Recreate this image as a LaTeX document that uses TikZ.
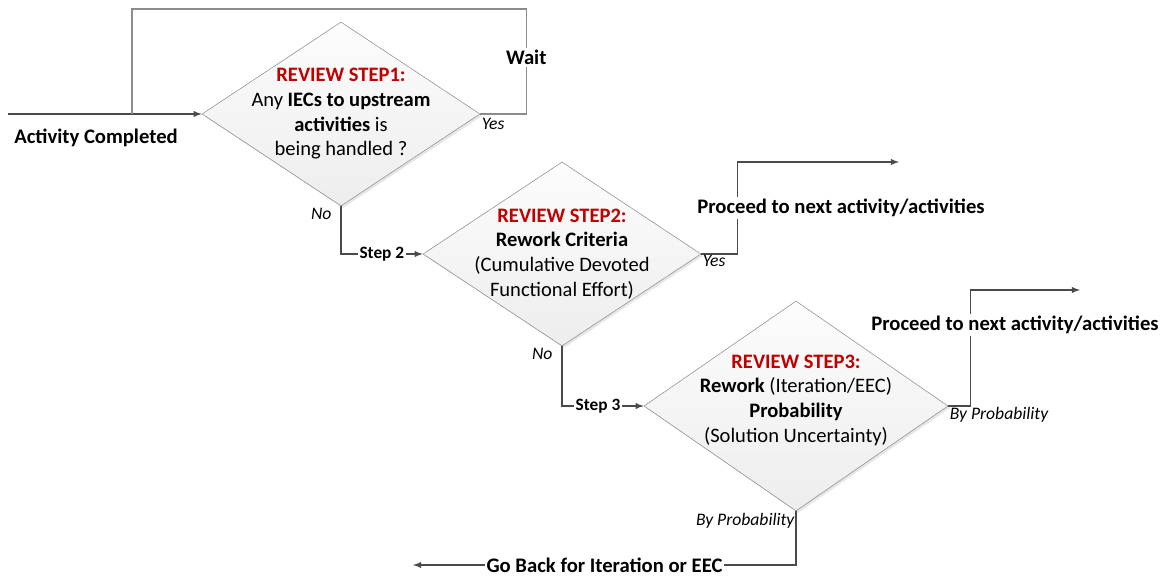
\documentclass[tikz,border=0pt]{standalone}
\usepackage{fontspec}
\setmainfont{Carlito}
\usetikzlibrary{shapes,arrows,positioning,calc,shadows}
\definecolor{reviewred}{HTML}{C00000}
\definecolor{flowline}{HTML}{4A4A4A}
\definecolor{edgegray}{HTML}{8C8C8C}

\begin{document}
\begin{tikzpicture}[x=0.75pt,y=-0.75pt,>=latex,
  decision/.style={diamond,draw=edgegray,inner sep=0pt,top color=gray!2,bottom color=gray!14,
    drop shadow={opacity=0.2,shadow xshift=1.5pt,shadow yshift=-1.5pt}},
  steptext/.style={align=center,font=\fontsize{15.4}{18.5}\selectfont},
  flow/.style={draw=flowline,line width=1.1pt},
  boldlabel/.style={font=\fontsize{15.5}{17}\selectfont\bfseries,text=black,fill=white,inner sep=1.5pt},
  smallbold/.style={font=\fontsize{13}{15}\selectfont\bfseries,text=black,fill=white,inner sep=1pt},
  answer/.style={font=\fontsize{13.2}{15}\selectfont\itshape,inner sep=1pt}]
\useasboundingbox (0,0) rectangle (1168,577);

% the three review steps
\node[decision,minimum width=208.5pt,minimum height=138pt] (step1) at (341,114) {};
\node[decision,minimum width=208.5pt,minimum height=138pt] (step2) at (562,254) {};
\node[decision,minimum width=228pt,minimum height=157.5pt] (step3) at (796,406) {};

\node[steptext] (text1) at (step1) {\textcolor{reviewred}{\textbf{REVIEW STEP1:}}\\Any \textbf{IECs to upstream}\\\textbf{activities} is\\being handled ?};
\node[steptext] (text2) at (step2) {\textcolor{reviewred}{\textbf{REVIEW STEP2:}}\\\textbf{Rework Criteria}\\(Cumulative Devoted\\Functional Effort)};
\node[steptext] (text3) at ([yshift=4.5pt]step3) {\textcolor{reviewred}{\textbf{REVIEW STEP3:}}\\\textbf{Rework} (Iteration/EEC)\\\textbf{Probability}\\(Solution Uncertainty)};

% free ends
\coordinate (start) at (8,114);
\coordinate (join) at (132,114);
\coordinate (looptop) at (132,9);
\coordinate (next1) at (899,162);
\coordinate (next2) at (1080,290);
\coordinate (back) at (413,565);

% entry and wait loop
\draw[flow,->] (start) -- (step1.west);
\node[boldlabel,fill=none] (done) at (96,138) {Activity Completed};
\draw[edgegray,line width=0.8pt] (step1.east) -- ++(46,0) |- node[boldlabel,pos=0.27] (wait) {Wait} (looptop) -- (join);

% step 1 to step 2
\draw[flow,->] (step1.south) |- node[smallbold,pos=0.75] (go2) {Step 2} (step2.west);
\draw[flow,->] (step2.east) -- ++(36,0) |- (next1);
\node[boldlabel] (proceed1) at (841,208) {Proceed to next activity/activities};

% step 2 to step 3
\draw[flow,->] (step2.south) |- node[smallbold,pos=0.72] (go3) {Step 3} (step3.west);
\draw[flow,->] (step3.east) -- ++(22,0) |- (next2);
\node[boldlabel] (proceed2) at (1015,325) {Proceed to next activity/activities};
\draw[flow,->] (step3.south) |- node[boldlabel,pos=0.75,inner ysep=0pt,text depth=0pt] (goback) {Go Back for Iteration or EEC} (back);

% answers
\node[answer,anchor=north west,yshift=-2pt] (yes1) at (step1.east) {Yes};
\node[answer,anchor=north east,xshift=-6pt] (no1) at (step1.south) {No};
\node[answer,anchor=north west] (yes2) at (step2.east) {Yes};
\node[answer,anchor=north east,xshift=-6pt] (no2) at (step2.south) {No};
\node[answer,anchor=north west] (prob1) at (step3.east) {By Probability};
\node[answer,anchor=north east] (prob2) at (step3.south) {By Probability};
\end{tikzpicture}
\end{document}
